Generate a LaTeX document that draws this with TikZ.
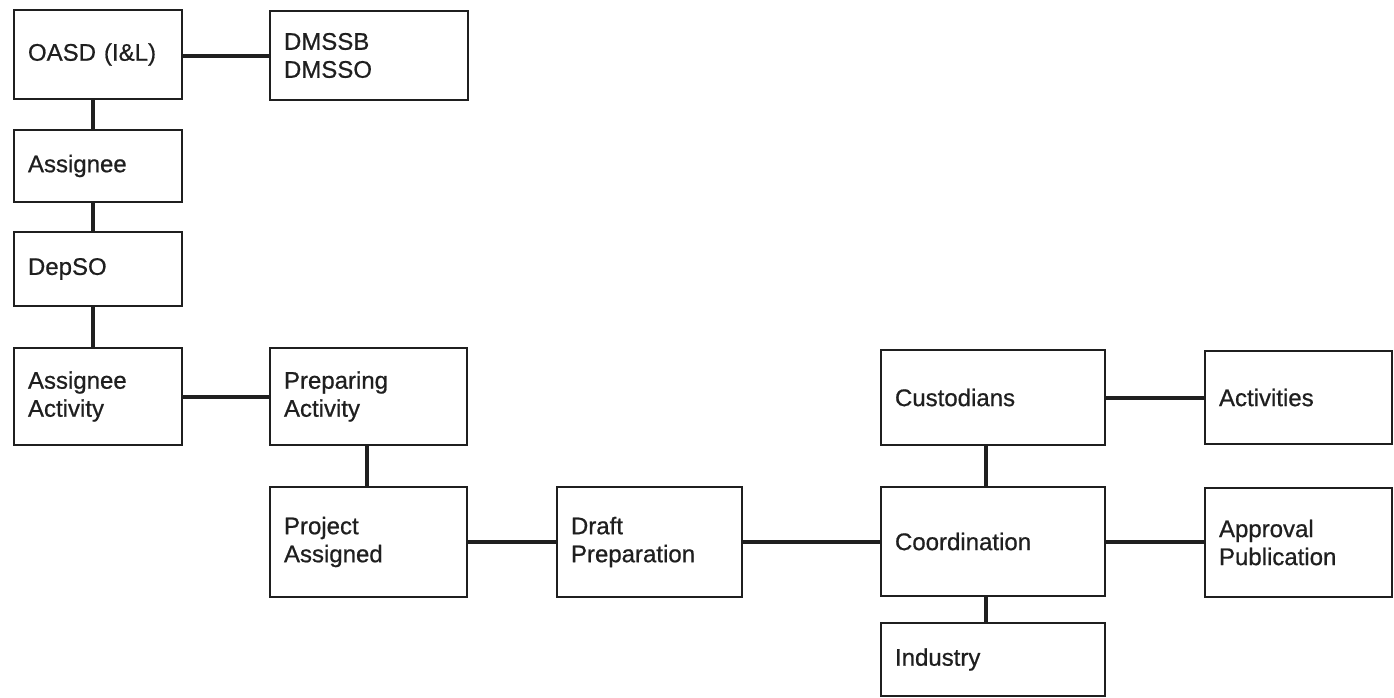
\documentclass[tikz,border=0pt]{standalone}
\usepackage{fontspec}
\setmainfont{Liberation Sans}[FakeBold=0.7]
\begin{document}
\begin{tikzpicture}[x=1pt,y=-1pt,
  stage/.style 2 args={draw=black!88, line width=2.6pt, rectangle,
    minimum width=#1, minimum height=#2, text width=#1-28pt,
    inner xsep=14pt, inner ysep=0pt, align=left, anchor=center,
    font=\fontsize{24}{28}\selectfont, text=black!88},
  link/.style={draw=black!88, line width=4pt}]
\useasboundingbox (0,0) rectangle (1394,698);
\fill[white] (0,0) rectangle (1394,698);

% left column
\node[stage={168pt}{89pt}]  (oasd)     at (98,54.5)    {OASD (I\&L)};
\node[stage={198pt}{89pt}]  (dmss)     at (369,55.5)   {DMSSB\\DMSSO};
\node[stage={168pt}{72pt}]  (assignee) at (98,166)     {Assignee};
\node[stage={168pt}{74pt}]  (depso)    at (98,269)     {DepSO};
\node[stage={168pt}{97pt}]  (aact)     at (98,396.5)   {Assignee\\Activity};
\node[stage={197pt}{97pt}]  (pact)     at (368.5,396.5){Preparing\\Activity};

% main flow
\node[stage={197pt}{110pt}] (proj)     at (368.5,542)  {Project\\Assigned};
\node[stage={185pt}{110pt}] (draft)    at (649.5,542)  {Draft\\Preparation};
\node[stage={224pt}{95pt}]  (cust)     at (993,397.5)  {Custodians};
\node[stage={187pt}{93pt}]  (activ)    at (1298.5,397.5){Activities};
\node[stage={224pt}{109pt}] (coord)    at (993,541.5)  {Coordination};
\node[stage={187pt}{109pt}] (appr)     at (1298.5,542.5){Approval\\Publication};
\node[stage={224pt}{73pt}]  (industry) at (993,659.5)  {Industry};

% connectors
\draw[link] ([yshift=-2pt]oasd.east) -- ([yshift=-2pt]oasd.east -| dmss.west);
\draw[link] ([xshift=-5pt]oasd.south) -- ([xshift=-5pt]oasd.south |- assignee.north);
\draw[link] ([xshift=-5pt]assignee.south) -- ([xshift=-5pt]assignee.south |- depso.north);
\draw[link] ([xshift=-5pt]depso.south) -- ([xshift=-5pt]depso.south |- aact.north);
\draw[link] (aact.east) -- (aact.east -| pact.west);
\draw[link] ([xshift=-2pt]pact.south) -- ([xshift=-2pt]pact.south |- proj.north);
\draw[link] (proj.east) -- (proj.east -| draft.west);
\draw[link] (draft.east) -- (draft.east -| coord.west);
\draw[link] (cust.east) -- (cust.east -| activ.west);
\draw[link] ([xshift=-7pt]cust.south) -- ([xshift=-7pt]cust.south |- coord.north);
\draw[link] (coord.east) -- (coord.east -| appr.west);
\draw[link] ([xshift=-7pt]coord.south) -- ([xshift=-7pt]coord.south |- industry.north);
\end{tikzpicture}
\end{document}
